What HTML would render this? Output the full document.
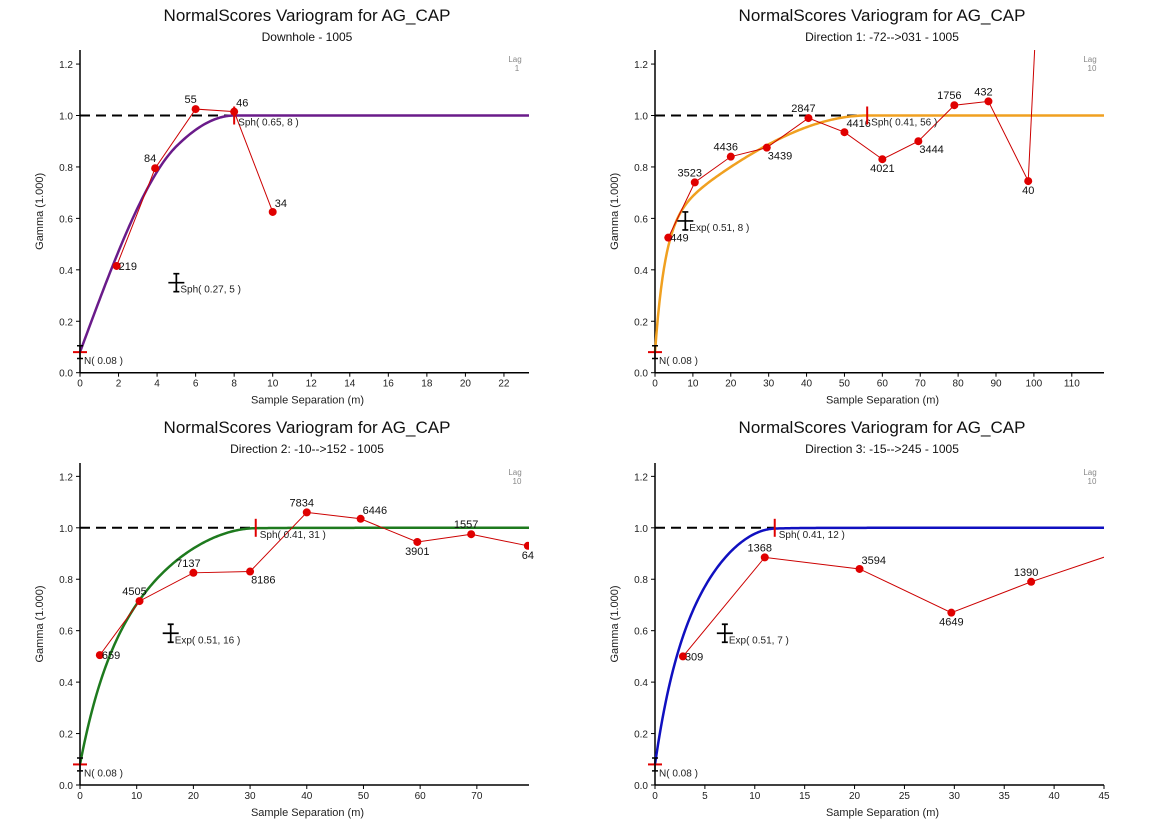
<!DOCTYPE html>
<html><head><meta charset="utf-8">
<style>
body{margin:0;background:#fff;width:1149px;height:824px;overflow:hidden;font-family:"Liberation Sans",sans-serif}
svg{position:absolute;left:0;top:0}
</style></head>
<body>
<svg id="chart" width="1149" height="824"></svg>
<script>
// ---- data arrays ----
const tlLags=[1.9,3.9,6,8,10];
const tlGamma=[0.415,0.795,1.025,1.015,0.625];
const tlCounts=["219","84","55","46","34"];
const tlLabelPos=["r","a","a","ar","ar"];
const tlTicks=[0,2,4,6,8,10,12,14,16,18,20,22];

const trLags=[3.5,10.5,20,29.5,40.5,50,60,69.5,79,88,98.5,104];
const trGamma=[0.525,0.74,0.84,0.875,0.99,0.935,0.83,0.9,1.04,1.055,0.745,2.4];
const trCounts=["449","3523","4436","3439","2847","4416","4021","3444","1756","432","40",""];
const trLabelPos=["r","a","a","br","a","ar","b","br","a","a","b","a"];
const trTicks=[0,10,20,30,40,50,60,70,80,90,100,110];

const blLags=[3.5,10.5,20,30,40,49.5,59.5,69,79];
const blGamma=[0.505,0.715,0.825,0.83,1.06,1.035,0.945,0.975,0.93];
const blCounts=["659","4505","7137","8186","7834","6446","3901","1557","64"];
const blLabelPos=["r","a","a","br","a","ar","b","a","b"];
const blTicks=[0,10,20,30,40,50,60,70];

const brLags=[2.8,11,20.5,29.7,37.7,48];
const brGamma=[0.5,0.885,0.84,0.67,0.79,0.925];
const brCounts=["309","1368","3594","4649","1390",""];
const brLabelPos=["r","a","ar","b","a","a"];
const brTicks=[0,5,10,15,20,25,30,35,40,45];

const yTicks=[0,0.2,0.4,0.6,0.8,1.0,1.2];

const panels=[
 {name:"downhole",sub:"Downhole - 1005",lag:"1",x0:80,xr:529,xmax:23.3,y0:372.7,yTop:50,ticks:tlTicks,lags:tlLags,g:tlGamma,c:tlCounts,lp:tlLabelPos,color:"#6a1b8a",
  nug:0.08,structs:[["Sph",0.27,5],["Sph",0.65,8]],tcx:307,ty:21},
 {name:"direction-1",sub:"Direction 1: -72-->031 - 1005",lag:"10",x0:655,xr:1104,xmax:118.5,y0:372.7,yTop:50,ticks:trTicks,lags:trLags,g:trGamma,c:trCounts,lp:trLabelPos,color:"#f0a020",
  nug:0.08,structs:[["Exp",0.51,8],["Sph",0.41,56]],tcx:882,ty:21},
 {name:"direction-2",sub:"Direction 2: -10-->152 - 1005",lag:"10",x0:80,xr:529,xmax:79.2,y0:785,yTop:463,ticks:blTicks,lags:blLags,g:blGamma,c:blCounts,lp:blLabelPos,color:"#1e7a1e",
  nug:0.08,structs:[["Exp",0.51,16],["Sph",0.41,31]],tcx:307,ty:433},
 {name:"direction-3",sub:"Direction 3: -15-->245 - 1005",lag:"10",x0:655,xr:1104,xmax:45,y0:785,yTop:463,ticks:brTicks,lags:brLags,g:brGamma,c:brCounts,lp:brLabelPos,color:"#1010c0",
  nug:0.08,structs:[["Exp",0.51,7],["Sph",0.41,12]],tcx:882,ty:433}
];

const NS="http://www.w3.org/2000/svg";
const svg=document.getElementById("chart");
function mk(tag,attrs,parent){const e=document.createElementNS(NS,tag);for(const k in attrs)e.setAttribute(k,attrs[k]);(parent||svg).appendChild(e);return e;}
function txt(s,attrs,parent){const e=mk("text",attrs,parent);e.textContent=s;return e;}
function model(p,h){let v=p.nug;for(const s of p.structs){const r=h/s[2];if(s[0]==="Sph")v+=r<1?s[1]*(1.5*r-0.5*r*r*r):s[1];else v+=s[1]*(1-Math.exp(-3*r));}return h<=0?p.nug:v;}

panels.forEach((p,pi)=>{
 const xs=(p.xr-p.x0)/p.xmax;
 const ys=(p.y0-(p.y0-308.7))/1; // placeholder
 const X=v=>p.x0+v*xs;
 const Y=v=>p.y0-v*257.2;
 const g=mk("g",{});
 
 
 const cid="clip"+pi;
 const cp=mk("clipPath",{id:cid},g);mk("rect",{x:p.x0-10,y:p.yTop,width:p.xr-p.x0+10,height:p.y0-p.yTop},cp);
 // titles
 const t=txt("NormalScores  Variogram for AG_CAP",{x:p.tcx,y:p.ty,"text-anchor":"middle","font-size":17,fill:"#111"},g);
 
 
 const st=txt(p.sub,{x:p.tcx,y:p.ty+20,"text-anchor":"middle","font-size":12,fill:"#111"},g);
 
 
 // axes
 mk("line",{x1:p.x0,y1:p.yTop,x2:p.x0,y2:p.y0,stroke:"#000","stroke-width":1.5},g);
 mk("line",{x1:p.x0,y1:p.y0,x2:p.xr,y2:p.y0,stroke:"#000","stroke-width":1.5},g);
 yTicks.forEach(v=>{mk("line",{x1:p.x0-4,y1:Y(v),x2:p.x0,y2:Y(v),stroke:"#000"},g);
  const l=txt(v.toFixed(1),{x:p.x0-7,y:Y(v)+4,"text-anchor":"end","font-size":10,fill:"#222"},g);
  
  });
 p.ticks.forEach(v=>{mk("line",{x1:X(v),y1:p.y0,x2:X(v),y2:p.y0+4,stroke:"#000"},g);
  const l=txt(String(v),{x:X(v),y:p.y0+14,"text-anchor":"middle","font-size":10,fill:"#222"},g);
  
  });
 const xl=txt("Sample Separation (m)",{x:(p.x0+p.xr)/2+3,y:p.y0+31,"text-anchor":"middle","font-size":11,fill:"#222"},g);
 
 
 const ycy=(p.yTop+p.y0)/2;
 const yl=txt("Gamma (1.000)",{x:p.x0-37,y:ycy,transform:`rotate(-90 ${p.x0-37} ${ycy})`,"text-anchor":"middle","font-size":11,fill:"#222"},g);
 
 
 const lg=txt("Lag",{x:p.xr-14,y:p.yTop+12,"text-anchor":"middle","font-size":8,fill:"#888"},g);
 
 
 txt(p.lag,{x:p.xr-12,y:p.yTop+21,"text-anchor":"middle","font-size":8,fill:"#888"},g);
 // sill dashed
 const last=p.structs[p.structs.length-1];
 const sill=p.nug+p.structs.reduce((a,s)=>a+s[1],0);
 mk("line",{x1:p.x0,y1:Y(sill),x2:X(last[2]),y2:Y(sill),stroke:"#000","stroke-width":2,"stroke-dasharray":"10,6"},g);
 // model curve
 let d="";const N=300;
 for(let i=0;i<=N;i++){const h=p.xmax*i/N;d+=(i?"L":"M")+X(h).toFixed(2)+","+Y(model(p,h)).toFixed(2);}
 const mc=mk("path",{d:d,fill:"none",stroke:p.color,"stroke-width":2.5,"clip-path":`url(#${cid})`},g);
 
 
 // experimental line
 const ed=p.lags.map((v,i)=>(i?"L":"M")+X(v)+","+Y(p.g[i])).join("");
 const el=mk("path",{d:ed,fill:"none",stroke:"#cc0000","stroke-width":1,"clip-path":`url(#${cid})`},g);
 
 
 p.lags.forEach((v,i)=>{
  if(v>p.xmax+0.5) return;
  const c=mk("circle",{cx:X(v),cy:Y(p.g[i]),r:4,fill:"#e00000","clip-path":`url(#${cid})`},g);
  
  
  const pos=p.lp[i];let lx=X(v),ly=Y(p.g[i]),anc="middle";
  if(pos==="r"){lx+=2;ly+=4;anc="start";}
  else if(pos==="a"){lx-=5;ly-=6;}
  else if(pos==="ar"){lx+=2;ly-=5;anc="start";}
  else if(pos==="b"){ly+=13;}
  else if(pos==="br"){lx+=1;ly+=12;anc="start";}
  const l=txt(p.c[i],{x:lx,y:ly,"text-anchor":anc,"font-size":11,fill:"#111"},g);
  
  
 });
 // nugget marker
 mk("line",{x1:X(0)-7,y1:Y(p.nug),x2:X(0)+7,y2:Y(p.nug),stroke:"#e00000","stroke-width":2},g);
 mk("path",{d:`M${X(0)-3},${Y(0.105)}h6M${X(0)},${Y(0.105)}V${Y(0.055)}M${X(0)-3},${Y(0.055)}h6`,stroke:"#000","stroke-width":1.5,fill:"none"},g);
 const nl=txt(`N( ${p.nug.toFixed(2)} )`,{x:X(0)+4,y:Y(p.nug)+12,"font-size":10,fill:"#222"},g);
 
 
 // structure markers
 let cum=p.nug;
 p.structs.forEach((s,si)=>{
  cum+=s[1];
  const mx=X(s[2]),my=Y(cum);
  const isLast=si===p.structs.length-1;
  if(isLast){
   mk("line",{x1:mx,y1:my-9,x2:mx,y2:my+9,stroke:"#e00000","stroke-width":2},g);
  } else {
   mk("path",{d:`M${mx-8},${my}h16M${mx},${my-9}V${my+9}M${mx-3},${my-9}h6M${mx-3},${my+9}h6`,stroke:"#000","stroke-width":1.7,fill:"none"},g);
  }
  const sl=txt(`${s[0]}( ${s[1].toFixed(2)}, ${s[2]} )`,{x:mx+4,y:my+10,"font-size":10,fill:"#222"},g);
  
  
 });
});
</script>
</body></html>
